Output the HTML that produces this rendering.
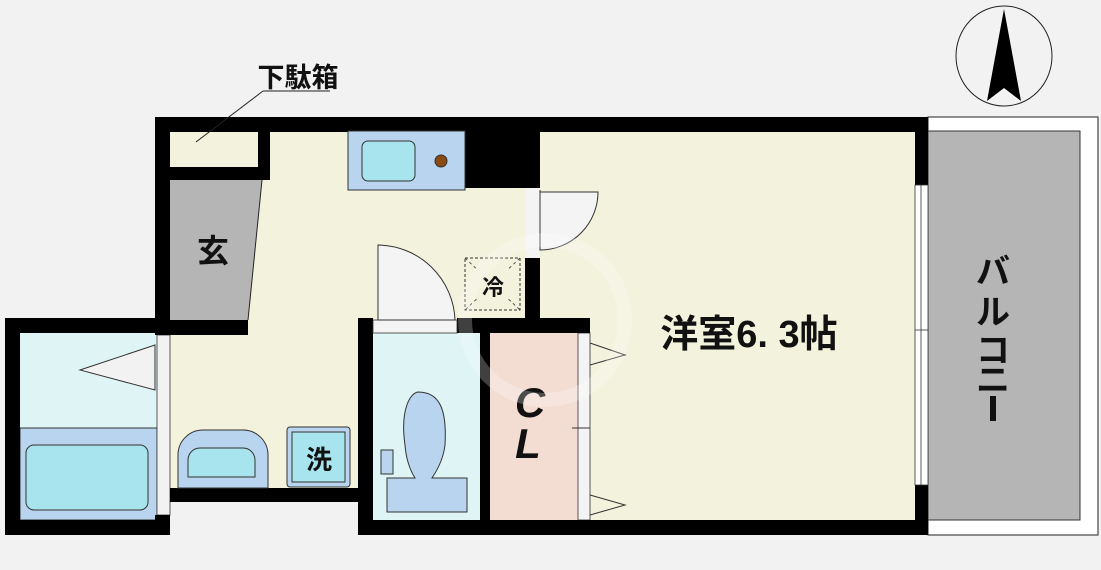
<!DOCTYPE html>
<html><head><meta charset="utf-8"><style>
html,body{margin:0;padding:0;background:#f2f2f2;}
svg{display:block;}
text{font-family:"Liberation Sans","Noto Sans CJK JP",sans-serif;font-weight:bold;fill:#111;}
</style></head><body>
<svg width="1101" height="570" viewBox="0 0 1101 570" xmlns="http://www.w3.org/2000/svg">
<rect width="1101" height="570" fill="#f2f2f2"/>
<!-- balcony -->
<rect x="928" y="117" width="170" height="418" fill="#fff" stroke="#222" stroke-width="1"/>
<rect x="928" y="131" width="152" height="389" fill="#b5b5b5" stroke="#333" stroke-width="1"/>
<!-- floors -->
<rect x="170" y="131" width="355" height="357" fill="#f3f2dc"/>
<rect x="540" y="131" width="375" height="389" fill="#f3f2dc"/>
<rect x="170" y="131" width="88" height="36" fill="#f3f2dc"/>
<polygon points="170,180 262,180 248,320 170,320" fill="#b5b5b5"/>
<line x1="262" y1="180" x2="248" y2="320" stroke="#222"/>
<!-- bath -->
<rect x="20" y="333" width="137" height="95" fill="#dff4f4"/>
<rect x="20" y="428" width="137" height="92" fill="#b8d4ee" stroke="#333" stroke-width="1"/>
<rect x="26" y="445" width="122" height="65" rx="8" fill="#a8e4ee" stroke="#333"/>
<polygon points="155,345 80,370 155,390" fill="#f2f2f2" stroke="#333"/>
<rect x="157" y="335" width="13" height="180" fill="#f2f2f2" stroke="#333" stroke-width="0.8"/>
<!-- toilet -->
<rect x="373" y="333" width="107" height="187" fill="#dff4f4"/>
<path d="M405,445 C400,410 410,393 418,392 C440,392 447,410 445,445 C443,462 434,475 432,478 L467,478 L467,512 L387,512 L387,478 L415,478 C410,470 406,458 405,445 Z" fill="#b8d4ee" stroke="#333"/>
<rect x="381" y="450" width="12" height="24" fill="#b8d4ee" stroke="#333"/>
<!-- CL -->
<rect x="490" y="333" width="88" height="187" fill="#f3ddd3"/>
<rect x="578" y="333" width="12" height="187" fill="#f4f4f4" stroke="#333" stroke-width="0.8"/>
<polyline points="590,343 625,355 590,365" fill="none" stroke="#333"/>
<polyline points="590,495 625,505 590,515" fill="none" stroke="#333"/>
<line x1="572" y1="428" x2="590" y2="428" stroke="#333"/>
<!-- walls -->
<g fill="#000">
<rect x="155" y="117" width="773" height="15"/>
<rect x="155" y="117" width="15" height="218"/>
<rect x="170" y="167" width="100" height="13"/>
<rect x="258" y="131" width="12" height="49"/>
<rect x="155" y="320" width="93" height="15"/>
<rect x="5" y="318" width="165" height="15"/>
<rect x="5" y="318" width="15" height="217"/>
<rect x="5" y="520" width="165" height="15"/>
<rect x="155" y="515" width="15" height="20"/>
<rect x="170" y="488" width="190" height="14"/>
<rect x="358" y="318" width="15" height="217"/>
<rect x="358" y="520" width="570" height="15"/>
<rect x="457" y="318" width="133" height="15"/>
<rect x="480" y="318" width="10" height="217"/>
<rect x="465" y="131" width="60" height="57"/>
<rect x="525" y="131" width="15" height="57"/>
<rect x="525" y="258" width="15" height="75"/>
<rect x="915" y="117" width="13" height="68"/>
<rect x="915" y="485" width="13" height="50"/>
</g>
<rect x="373" y="320" width="84" height="13" fill="#f4f4f4" stroke="#333" stroke-width="0.8"/>
<rect x="527" y="188" width="13" height="70" fill="#f4f4f4"/>
<rect x="915" y="185" width="13" height="300" fill="#fff" stroke="#333" stroke-width="0.8"/>
<line x1="921" y1="185" x2="921" y2="485" stroke="#333" stroke-width="0.8"/>
<line x1="915" y1="330" x2="928" y2="330" stroke="#333" stroke-width="0.8"/>
<!-- doors -->
<path d="M540,190 L540,250 A58,58 0 0 0 598,192 L540,192" fill="#f4f4f4" stroke="#333"/>
<path d="M378,320 L378,245 A78,78 0 0 1 455,320 Z" fill="#f4f4f4" stroke="#333"/>
<!-- kitchen sink -->
<rect x="348" y="131" width="117" height="59" fill="#b8d4ee" stroke="#333"/>
<rect x="362" y="141" width="53" height="40" rx="6" fill="#a8e4ee" stroke="#333"/>
<circle cx="441" cy="161" r="6" fill="#8a4a14" stroke="#333"/>
<!-- fridge -->
<rect x="465" y="258" width="55" height="52" fill="none" stroke="#333" stroke-dasharray="3,2"/>
<line x1="465" y1="258" x2="520" y2="310" stroke="#333" stroke-dasharray="3,3" stroke-width="0.8"/>
<line x1="520" y1="258" x2="465" y2="310" stroke="#333" stroke-dasharray="3,3" stroke-width="0.8"/>
<rect x="478" y="270" width="30" height="28" fill="#f3f2dc"/>
<text x="493" y="295" font-size="22" text-anchor="middle">冷</text>
<!-- washbasin -->
<path d="M178,488 L178,455 A25,25 0 0 1 203,430 L243,430 A25,25 0 0 1 268,455 L268,488 Z" fill="#b8d4ee" stroke="#333"/>
<path d="M188,477 L188,460 A12,12 0 0 1 200,448 L243,448 A12,12 0 0 1 255,460 L255,477 Z" fill="#a8e4ee" stroke="#333"/>
<rect x="287" y="427" width="63" height="60" rx="3" fill="#b8d4ee" stroke="#333"/>
<rect x="292" y="432" width="53" height="50" fill="#a8e4ee" stroke="#333"/>
<text x="319" y="469" font-size="26" text-anchor="middle">洗</text>
<!-- labels -->
<text x="213" y="262" font-size="32" text-anchor="middle">玄</text>
<text x="530" y="417" font-size="42" text-anchor="middle" font-style="italic">C</text>
<text x="528" y="458" font-size="42" text-anchor="middle" font-style="italic">L</text>
<text x="749" y="347" font-size="38" text-anchor="middle">洋室6. 3帖</text>
<g font-size="34">
<text x="993" y="283" text-anchor="middle">バ</text>
<text x="993" y="324" text-anchor="middle">ル</text>
<text x="993" y="362" text-anchor="middle">コ</text>
<text x="993" y="392" text-anchor="middle">ニ</text>
</g>
<rect x="990" y="396" width="6" height="25" fill="#111"/>
<text x="298" y="87" font-size="27" text-anchor="middle">下駄箱</text>
<line x1="263" y1="91" x2="330" y2="91" stroke="#222"/>
<line x1="263" y1="91" x2="196" y2="142" stroke="#222"/>
<!-- compass -->
<ellipse cx="1004" cy="56" rx="48" ry="50" fill="none" stroke="#222"/>
<polygon points="1004,9 987,101 1004,88 1021,101" fill="#000"/>
<!-- watermark -->
<circle cx="545" cy="320" r="80" fill="none" stroke="#fff" stroke-opacity="0.25" stroke-width="14"/>
</svg>
</body></html>
